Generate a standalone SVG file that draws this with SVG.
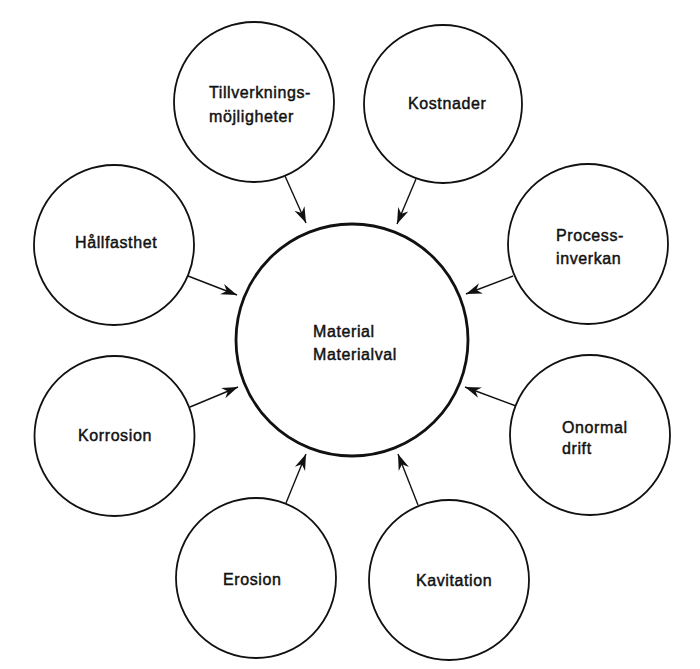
<svg xmlns="http://www.w3.org/2000/svg" width="700" height="669" viewBox="0 0 700 669">
<style>
.bg{fill:#ffffff}
.n{fill:#ffffff;stroke:#111;stroke-width:1.8}
.c{fill:#ffffff;stroke:#111;stroke-width:2.8}
.t{font-family:"Liberation Sans",Arial,sans-serif;font-size:16px;fill:#111;stroke:#111;stroke-width:0.45;letter-spacing:0.6px}
.e{stroke:#111;stroke-width:1.4;fill:none;marker-end:url(#ah)}
</style>
<defs>
<marker id="ah" viewBox="-16 -6 17 12" refX="0" refY="0" markerWidth="17" markerHeight="12" markerUnits="userSpaceOnUse" orient="auto">
<path d="M0,0 L-16,-5.5 L-11,0 L-16,5.5 Z" fill="#111"/>
</marker>
</defs>
<rect class="bg" x="0" y="0" width="700" height="669"/>
<g id="connectors">
<line class="e" x1="285" y1="176" x2="306" y2="223"/>
<line class="e" x1="416" y1="179" x2="397" y2="224"/>
<line class="e" x1="188" y1="276" x2="237" y2="295"/>
<line class="e" x1="513" y1="276" x2="466" y2="294"/>
<line class="e" x1="190" y1="407" x2="238" y2="387"/>
<line class="e" x1="516" y1="406" x2="465" y2="387"/>
<line class="e" x1="286" y1="503" x2="306" y2="454"/>
<line class="e" x1="418" y1="505" x2="398" y2="454"/>
</g>
<g id="material">
<circle class="c" cx="352" cy="340" r="116"/>
<text class="t" x="313" y="337">Material</text>
<text class="t" x="313" y="360">Materialval</text>
</g>
<g id="tillverkning">
<circle class="n" cx="254" cy="102" r="80"/>
<text class="t" x="209" y="98">Tillverknings-</text>
<text class="t" x="209" y="122">möjligheter</text>
</g>
<g id="kostnader">
<circle class="n" cx="443" cy="104" r="79"/>
<text class="t" x="408" y="109">Kostnader</text>
</g>
<g id="hallfasthet">
<circle class="n" cx="114" cy="245" r="80"/>
<text class="t" x="75" y="248">Hållfasthet</text>
</g>
<g id="process">
<circle class="n" cx="588" cy="244" r="80"/>
<text class="t" x="556" y="241">Process-</text>
<text class="t" x="556" y="264">inverkan</text>
</g>
<g id="korrosion">
<circle class="n" cx="114.5" cy="436" r="80"/>
<text class="t" x="78" y="441">Korrosion</text>
</g>
<g id="onormal">
<circle class="n" cx="590" cy="435" r="80"/>
<text class="t" x="562" y="433">Onormal</text>
<text class="t" x="562" y="454">drift</text>
</g>
<g id="erosion">
<circle class="n" cx="256" cy="578" r="80"/>
<text class="t" x="223" y="585">Erosion</text>
</g>
<g id="kavitation">
<circle class="n" cx="449" cy="580" r="80"/>
<text class="t" x="416" y="586">Kavitation</text>
</g>
</svg>
